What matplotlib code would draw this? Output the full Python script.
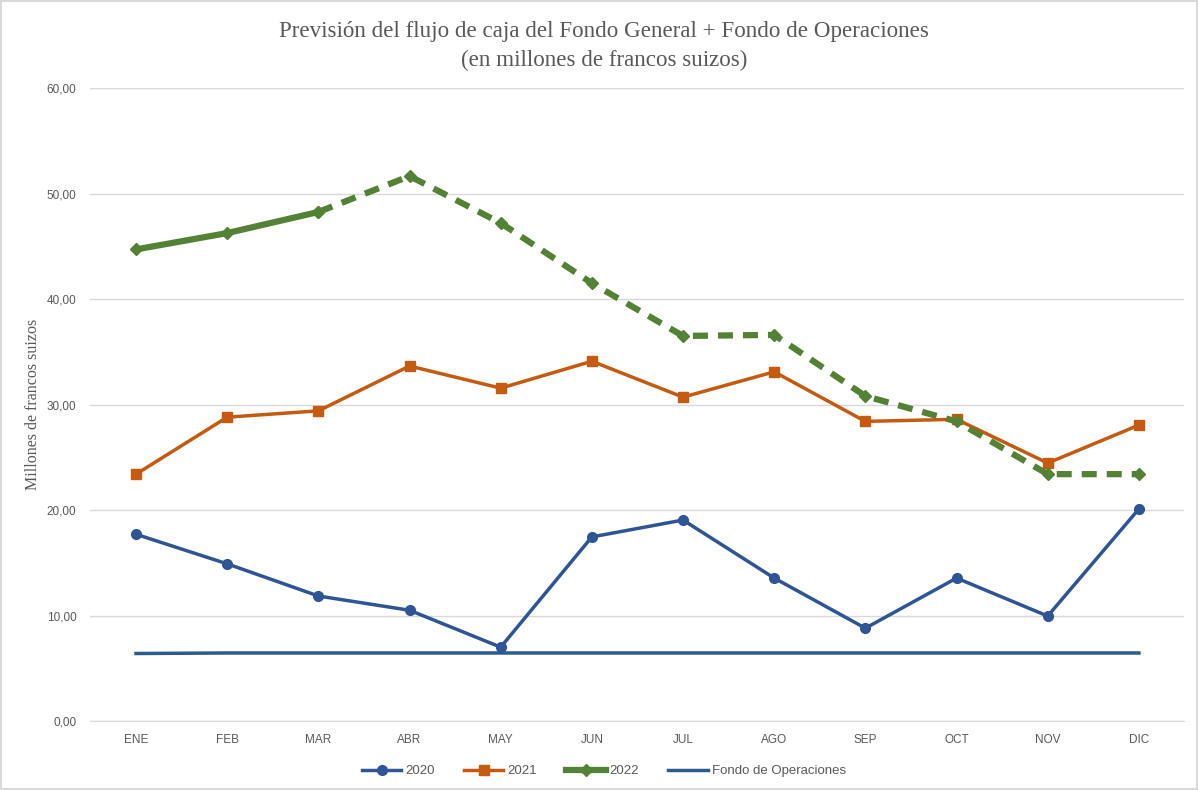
import matplotlib.pyplot as plt

meses = ['ENE', 'FEB', 'MAR', 'ABR', 'MAY', 'JUN', 'JUL', 'AGO', 'SEP', 'OCT', 'NOV', 'DIC']
v2020 = [17.7, 14.9, 11.85, 10.5, 7.0, 17.45, 19.05, 13.55, 8.8, 13.55, 9.95, 20.1]
v2021 = [23.4, 28.8, 29.4, 33.65, 31.55, 34.1, 30.7, 33.1, 28.4, 28.6, 24.45, 28.05]
v2022 = [44.7, 46.25, 48.25, 51.65, 47.2, 41.5, 36.5, 36.6, 30.8, 28.4, 23.4, 23.4]
fondo = [6.4, 6.45, 6.45, 6.45, 6.45, 6.45, 6.45, 6.45, 6.45, 6.45, 6.45, 6.45]
n_real_2022 = 3  # ENE-MAR real, resto previsión

c2020 = '#2F5597'
c2021 = '#C55A11'
c2022 = '#548235'
cfondo = '#2A5C8E'
gris = '#595959'

fig = plt.figure(figsize=(11.98, 7.9), dpi=100)
fig.patch.set_edgecolor('#D9D9D9')
fig.patch.set_linewidth(1.5)
ax = fig.add_axes([0.0755, 0.0873, 0.9132, 0.8013])

x = list(range(len(meses)))

ax.plot(x, fondo, color=cfondo, lw=2.5, label='Fondo de Operaciones', zorder=3)
ax.plot(x, v2020, color=c2020, lw=2.5, marker='o', ms=7, label='2020', zorder=4)
ax.plot(x, v2021, color=c2021, lw=2.5, marker='s', ms=7, label='2021', zorder=4)
ax.plot(x[:n_real_2022], v2022[:n_real_2022], color=c2022, lw=4.5, marker='D', ms=6,
        label='2022', zorder=5)
ax.plot(x[n_real_2022 - 1:], v2022[n_real_2022 - 1:], color=c2022, lw=4.5, ls=(0, (2.4, 1.6)),
        marker='D', ms=6, zorder=5)

ax.set_xlim(-0.5, len(meses) - 0.5)
ax.set_ylim(0, 60)
ax.set_yticks(range(0, 61, 10))
ax.set_yticklabels([f'{v},00' for v in range(0, 61, 10)])
ax.set_xticks(x)
ax.set_xticklabels(meses)
ax.grid(axis='y', color='#D9D9D9', lw=1)
ax.set_axisbelow(True)
for s in ['top', 'right', 'left']:
    ax.spines[s].set_visible(False)
ax.spines['bottom'].set_color('#D9D9D9')
ax.tick_params(axis='both', length=0, labelsize=8.5, labelcolor=gris)
ax.tick_params(axis='x', pad=9)
ax.tick_params(axis='y', pad=10)
for t in ax.get_xticklabels() + ax.get_yticklabels():
    t.set_fontfamily('Liberation Sans')

ax.set_ylabel('Millones de francos suizos', fontfamily='Liberation Serif', fontsize=11.5,
              color=gris, labelpad=4)

fig.text(0.504, 0.960, 'Previsión del flujo de caja del Fondo General + Fondo de Operaciones',
         ha='center', va='center', fontfamily='Liberation Serif', fontsize=16.6, color=gris)
fig.text(0.504, 0.924, '(en millones de francos suizos)', ha='center', va='center',
         fontfamily='Liberation Serif', fontsize=16.6, color=gris)

h, l = ax.get_legend_handles_labels()
orden = [1, 2, 3, 0]
leg = fig.legend([h[i] for i in orden], [l[i] for i in orden], loc='center',
                 bbox_to_anchor=(0.504, 0.024), ncol=4, frameon=False,
                 prop={'family': 'Liberation Sans', 'size': 9.5}, handlelength=3,
                 columnspacing=2.2, handletextpad=0.3)
for t in leg.get_texts():
    t.set_color(gris)

fig.savefig('out.png', dpi=100)
